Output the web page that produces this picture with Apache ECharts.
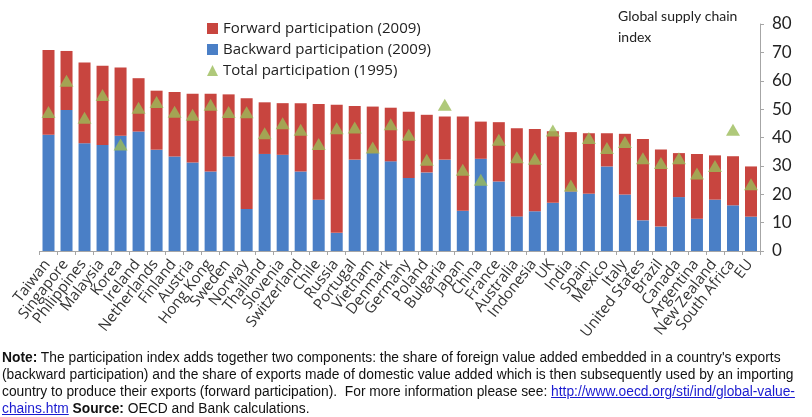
<!DOCTYPE html>
<html>
<head>
<meta charset="utf-8">
<script src="https://cdn.jsdelivr.net/npm/echarts@6/dist/echarts.min.js"></script>
<style>
  html, body { margin: 0; padding: 0; background: #fff; }
  #wrap { position: relative; width: 812px; height: 417px; }
  #chart { position: absolute; left: 0; top: 0; width: 812px; height: 417px; }
  #note {
    position: absolute; left: 2px; top: 349px; width: 812px;
    font-family: "Liberation Sans", Arial, sans-serif; font-size: 13.8px;
    line-height: 17px; color: #111;
  }
  #note div { white-space: nowrap; }
  #note a { color: #1a1ad0; text-decoration: underline; }
</style>
</head>
<body>
<div id="wrap">
  <div id="chart"></div>
  <div id="note">
    <div><b>Note:</b> The participation index adds together two components: the share of foreign value added embedded in a country's exports</div>
    <div>(backward participation) and the share of exports made of domestic value added which is then subsequently used by an importing</div>
    <div>country to produce their exports (forward participation).&nbsp; For more information please see: <a>http://www.oecd.org/sti/ind/global-value-</a></div>
    <div><a>chains.htm</a> <b>Source:</b> OECD and Bank calculations.</div>
  </div>
</div>
<script>
const countries = ['Taiwan', 'Singapore', 'Philippines', 'Malaysia', 'Korea', 'Ireland', 'Netherlands',
  'Finland', 'Austria', 'Hong Kong', 'Sweden', 'Norway', 'Thailand', 'Slovenia', 'Switzerland',
  'Chile', 'Russia', 'Portugal', 'Vietnam', 'Denmark', 'Germany', 'Poland', 'Bulgaria', 'Japan',
  'China', 'France', 'Australia', 'Indonesia', 'UK', 'India', 'Spain', 'Mexico', 'Italy',
  'United States', 'Brazil', 'Canada', 'Argentina', 'New Zealand', 'South Africa', 'EU']

// backward participation (2009), blue, bottom of stack
const backward = [41.0, 49.7, 38.0, 37.4, 40.6, 42.1, 35.7, 33.3, 31.2, 28.0, 33.3, 14.8, 34.2, 33.9,
  28.0, 18.1, 6.4, 32.2, 34.5, 31.6, 25.7, 27.7, 32.2, 14.2, 32.5, 24.5, 12.2, 14.0, 17.0, 21.0,
  20.2, 29.8, 19.9, 10.8, 8.6, 19.0, 11.4, 18.1, 16.1, 12.1]

// forward participation (2009), red, stacked on top
const forward = [29.8, 20.8, 28.4, 27.9, 24.1, 18.8, 20.8, 22.7, 24.2, 27.4, 21.9, 39.0, 18.2, 18.2,
  24.1, 33.7, 45.1, 18.9, 16.4, 18.9, 23.4, 20.3, 15.2, 33.2, 13.1, 20.9, 31.1, 29.0, 25.2, 20.9,
  21.3, 11.7, 21.4, 28.7, 27.2, 15.5, 22.8, 15.6, 17.3, 17.7]

// total participation (1995), green triangles
const total1995 = [49.0, 60.0, 47.0, 55.0, 37.5, 50.5, 52.5, 49.1, 48.0, 51.5, 49.0, 48.9, 41.5, 45.0,
  42.7, 37.7, 43.3, 43.5, 36.5, 44.7, 41.0, 32.2, 51.5, 28.6, 25.1, 39.2, 33.0, 32.5, 42.5, 23.1,
  39.8, 36.3, 38.4, 32.7, 31.0, 32.7, 27.3, 30.0, 42.7, 23.5]

const chart = echarts.init(document.getElementById('chart'))
const font = '"Open Sans"'

chart.setOption({
  backgroundColor: '#fff',
  animation: false,
  legend: {
    orient: 'vertical', left: 202, top: 16,
    itemWidth: 11, itemHeight: 11, itemGap: 6,
    textStyle: { fontFamily: font, fontSize: 15, color: '#222' },
    data: [
      { name: 'Forward participation (2009)', icon: 'rect' },
      { name: 'Backward participation (2009)', icon: 'rect' },
      { name: 'Total participation (1995)', icon: 'triangle' },
    ],
  },
  graphic: [{
    type: 'text', left: 618, top: 6,
    style: { text: 'Global supply chain\nindex', font: '14px Lato', fill: '#222', lineHeight: 21 },
  }],
  grid: { left: 39.5, right: 52, top: 24, bottom: 166 },
  xAxis: {
    type: 'category', data: countries,
    axisLine: { lineStyle: { color: '#a6a6a6' } },
    axisTick: { show: true, length: 4, lineStyle: { color: '#a6a6a6' } },
    axisLabel: {
      rotate: 52, interval: 0, margin: 9, padding: [0, 2, 0, 0],
      fontFamily: font, fontSize: 15, color: '#333',
    },
  },
  yAxis: {
    type: 'value', position: 'right', min: 0, max: 80, interval: 10,
    axisLine: { show: true, lineStyle: { color: '#a6a6a6' } },
    axisTick: { show: true, length: 4, lineStyle: { color: '#a6a6a6' } },
    axisLabel: { margin: 12, fontFamily: 'Lato', fontSize: 17, color: '#222' },
    splitLine: { show: false },
  },
  series: [
    {
      name: 'Backward participation (2009)', type: 'bar', stack: 'gvc',
      data: backward, barWidth: 12, itemStyle: { color: '#4a7fc6' },
    },
    {
      name: 'Forward participation (2009)', type: 'bar', stack: 'gvc',
      data: forward, barWidth: 12, itemStyle: { color: '#c8453f' },
    },
    {
      name: 'Total participation (1995)', type: 'scatter',
      data: total1995, symbol: 'triangle', symbolSize: [14, 12],
      itemStyle: { color: '#9bbb59' }, z: 5,
    },
  ],
})
</script>
</body>
</html>
